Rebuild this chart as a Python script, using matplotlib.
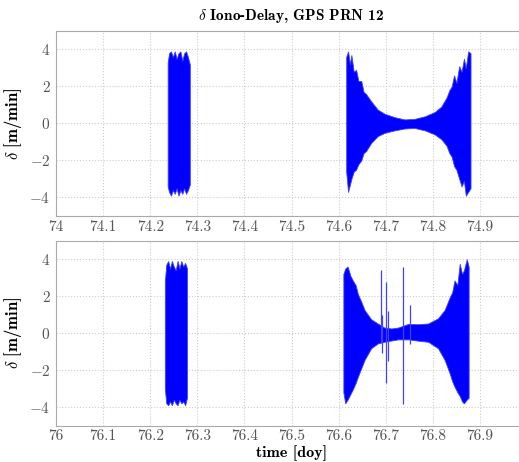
import numpy as np
import matplotlib
matplotlib.use("Agg")
import matplotlib.pyplot as plt

plt.rcParams['font.family'] = 'serif'
plt.rcParams['font.serif'] = ['cmr10']
plt.rcParams['mathtext.fontset'] = 'cm'
plt.rcParams['axes.formatter.use_mathtext'] = True

# envelope of the delta iono-delay (time in doy, m/min)
top_arc1_t = [74.237, 74.240, 74.244, 74.248, 74.252, 74.256, 74.260, 74.264, 74.268, 74.272, 74.276, 74.280, 74.284]
top_arc1_hi = [3.3, 3.8, 3.9, 3.6, 3.9, 3.5, 3.8, 3.9, 3.4, 3.8, 3.9, 3.6, 3.2]
top_arc1_lo = [-3.4, -3.7, -3.9, -3.6, -3.8, -3.5, -3.9, -3.6, -3.8, -3.5, -3.8, -3.6, -3.3]

top_arc2_t = [74.616, 74.620, 74.624, 74.627, 74.632, 74.637, 74.642, 74.648, 74.653, 74.658, 74.669,
              74.683, 74.698, 74.719, 74.740, 74.761, 74.783, 74.804, 74.818, 74.829, 74.835,
              74.840, 74.845, 74.850, 74.856, 74.861, 74.866, 74.870, 74.875, 74.880]
top_arc2_hi = [3.6, 3.9, 3.2, 3.7, 2.8, 2.9, 2.3, 2.3, 1.7, 1.6, 1.2,
               0.75, 0.52, 0.34, 0.22, 0.25, 0.39, 0.62, 0.92, 1.4, 1.8,
               2.0, 2.6, 2.2, 3.1, 2.8, 3.5, 3.0, 3.9, 3.8]
top_arc2_lo = [-2.6, -3.7, -3.3, -3.0, -2.6, -2.5, -2.2, -2.0, -1.6, -1.5, -1.05,
               -0.68, -0.5, -0.37, -0.27, -0.24, -0.37, -0.59, -0.85, -1.2, -1.6,
               -1.8, -2.3, -2.5, -3.0, -3.4, -3.1, -3.9, -3.7, -3.5]

bot_arc1_t = [76.231, 76.234, 76.238, 76.242, 76.246, 76.250, 76.254, 76.258, 76.262, 76.266, 76.270, 76.274, 76.278]
bot_arc1_hi = [2.8, 3.7, 3.9, 3.5, 3.9, 3.6, 3.4, 3.9, 3.5, 3.9, 3.6, 3.8, 3.5]
bot_arc1_lo = [-3.0, -3.8, -3.9, -3.7, -3.9, -3.6, -3.8, -3.9, -3.6, -3.8, -3.7, -3.9, -3.5]

bot_arc2_t = [76.610, 76.614, 76.619, 76.625, 76.630, 76.636, 76.641, 76.648, 76.655, 76.669, 76.683,
              76.697, 76.712, 76.726, 76.748, 76.769, 76.790, 76.811, 76.825, 76.836, 76.841,
              76.846, 76.852, 76.857, 76.862, 76.866, 76.872, 76.876]
bot_arc2_hi = [3.2, 3.5, 3.6, 3.1, 2.85, 2.6, 2.1, 1.7, 1.25, 0.75, 0.52,
               0.3, 0.25, 0.3, 0.5, 0.48, 0.52, 0.8, 1.25, 1.95, 2.2,
               2.85, 2.6, 3.75, 3.2, 3.4, 4.0, 3.6]
bot_arc2_lo = [-3.2, -3.8, -3.6, -3.3, -3.05, -2.7, -2.35, -1.9, -1.45, -0.82, -0.56,
               -0.47, -0.4, -0.34, -0.34, -0.41, -0.47, -0.82, -1.45, -2.2, -2.6,
               -2.9, -3.2, -3.4, -3.7, -3.8, -3.6, -3.5]

# isolated outliers in the lower panel (time, min, max)
spike_t = [76.690, 76.692, 76.701, 76.704, 76.737, 76.752]
spike_lo = [-0.5, -1.1, -2.7, -1.5, -3.85, -0.6]
spike_hi = [3.4, 1.0, 2.75, 1.2, 3.55, 1.5]

panels = [
    (74, [(top_arc1_t, top_arc1_lo, top_arc1_hi), (top_arc2_t, top_arc2_lo, top_arc2_hi)], None),
    (76, [(bot_arc1_t, bot_arc1_lo, bot_arc1_hi), (bot_arc2_t, bot_arc2_lo, bot_arc2_hi)],
     (spike_t, spike_lo, spike_hi)),
]

fig = plt.figure(figsize=(5.19, 4.62), dpi=100)
positions = [[0.108, 0.5325, 0.9075, 0.4004], [0.108, 0.079, 0.9075, 0.400]]

for pos, (day, arcs, spikes) in zip(positions, panels):
    ax = fig.add_axes(pos)
    for t, lo, hi in arcs:
        ax.fill_between(t, lo, hi, color='blue', linewidth=0.6, edgecolor='#4040ff')
    if spikes is not None:
        ax.vlines(spikes[0], spikes[1], spikes[2], color='#4040ff', linewidth=0.9)
    ax.set_xlim(day, day + 1)
    ax.set_ylim(-5, 5)
    ax.set_xticks(np.arange(day, day + 1.0, 0.1))
    ax.set_xticklabels(['%g' % round(v, 1) for v in np.arange(day, day + 1.0, 0.1)])
    ax.set_yticks([-4, -2, 0, 2, 4])
    ax.tick_params(length=0, labelsize=11, labelcolor='#555555', pad=4)
    ax.tick_params(axis='x', pad=3)
    ax.grid(True, linestyle=':', color='#cccccc', linewidth=0.8)
    ax.set_axisbelow(True)
    for s in ax.spines.values():
        s.set_color('#aaaaaa')
    ax.set_ylabel(r'$\delta$ [m/min]', fontfamily='cmb10', fontsize=12, labelpad=4)
    if day == 74:
        ax.set_title(r'$\delta$ Iono-Delay, GPS PRN 12', fontfamily='cmb10', fontsize=11, pad=8)
    else:
        ax.set_xlabel('time [doy]', fontfamily='cmb10', fontsize=11.5, labelpad=1)

fig.savefig('out.png', dpi=100)
